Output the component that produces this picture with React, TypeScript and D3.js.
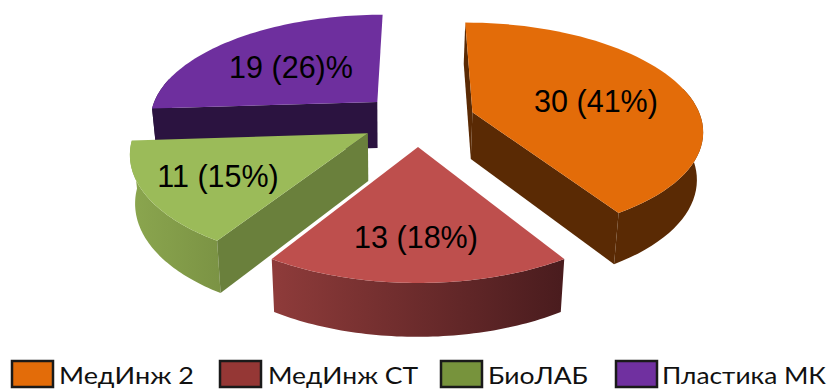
import React from "react";
import * as d3 from "d3";

// Slice data
const categories = ["МедИнж 2", "МедИнж СТ", "БиоЛАБ", "Пластика МК"];
const values = [30, 13, 11, 19];
const sliceLabels = ["30 (41%)", "13 (18%)", "11 (15%)", "19 (26)%"];

// Palette
const topColors = ["#e36c09", "#be4f4d", "#9bbb59", "#6e2f9e"];
const wallColors = ["#5a2a04", "#4c1d1f", "#6a803c", "#2b1340"];
const rimFrom = ["#5a2a04", "#8e3b3a", "#8aa54e", "#2b1340"];
const rimTo = ["#5a2a04", "#4a1c1e", "#7b9344", "#2b1340"];
const legendColors = ["#e36c09", "#953735", "#77933c", "#7030a0"];

// Perspective model of the pie plane
const W = 830;
const H = 389;
const X0 = 418;
const Y0 = 119.5;
const AX = 229;
const BY = 105.6;
const PERSP = 0.154;
const EXPLODE = 0.25;

type P = [number, number];

const project = (X: number, Y: number): P => {
  const s = 1 / (1 + PERSP * Y);
  return [X0 + AX * X * s, Y0 - BY * Y * s];
};

// Lower rim of the extrusion, for a world point
const lower = (X: number, Y: number): P => {
  const [x, y] = project(X, Y);
  return [x - (x - 390) * 0.02, y + 47 - 5.5 * Y];
};

const line = d3.line<P>();

const pie = d3
  .pie<number>()
  .sort(null)
  .startAngle(0)
  .endAngle(Math.PI * 2);
const arcs = pie(values);

// Back-to-front painting order
const paintOrder = [3, 0, 2, 1];

// Label centres and baselines
const labelLayout: P[] = [
  [596, 112],
  [416, 248],
  [218, 187],
  [291, 78],
];

// Legend layout
const legendSwatchX = [12, 220, 441, 616];
const legendTextX = [59, 268, 488, 662];
const legendTextW = [135, 150, 100, 164];

function Slice({ i }: { i: number }) {
  const a = arcs[i];
  const mid = (a.startAngle + a.endAngle) / 2;
  const ox = Math.sin(mid) * EXPLODE;
  const oy = Math.cos(mid) * EXPLODE;
  const world = (t: number): P => [ox + Math.sin(t), oy + Math.cos(t)];
  const angles = d3.range(0, 61).map((k) => a.startAngle + ((a.endAngle - a.startAngle) * k) / 60);
  const topArc = angles.map((t) => project(...world(t)));
  // Only the part of the outer wall that faces the viewer is painted
  const rimAngles = angles.filter((t) => Math.cos(t) < 0.25);
  const rimTop = rimAngles.map((t) => project(...world(t)));
  const rimLow = rimAngles.map((t) => lower(...world(t)));
  const apexTop = project(ox, oy);
  const apexLow = lower(ox, oy);
  const wall = (t: number) => {
    const w = world(t);
    return line([apexTop, project(...w), lower(...w), apexLow]) + "Z";
  };
  const rim = line([...rimTop, ...rimLow.slice().reverse()]) + "Z";
  const top = line([apexTop, ...topArc]) + "Z";
  const xs = rimLow.map((p) => p[0]);
  // The first slice shows both cut faces; the left-hand slices show only their leading face
  const showStart = a.startAngle > Math.PI;
  const showBoth = a.startAngle === 0;
  return (
    <g>
      <defs>
        <linearGradient
          id={`rim-${i}`}
          gradientUnits="userSpaceOnUse"
          x1={d3.min(xs)}
          x2={d3.max(xs)}
          y1={0}
          y2={0}
        >
          <stop offset="0" stopColor={rimFrom[i]} />
          <stop offset="1" stopColor={rimTo[i]} />
        </linearGradient>
      </defs>
      <path d={rim} fill={`url(#rim-${i})`} />
      {showBoth && <path d={wall(a.endAngle)} fill={wallColors[i]} />}
      {(showStart || showBoth) && <path d={wall(a.startAngle)} fill={wallColors[i]} />}
      <path d={top} fill={topColors[i]} />
    </g>
  );
}

export default function App() {
  return (
    <svg
      width={W}
      height={H}
      viewBox={`0 0 ${W} ${H}`}
      style={{ position: "absolute", left: 0, top: 0, display: "block", background: "#fff" }}
    >
      {paintOrder.map((i) => (
        <Slice key={i} i={i} />
      ))}
      {sliceLabels.map((t, i) => (
        <text
          key={t}
          x={labelLayout[i][0]}
          y={labelLayout[i][1]}
          textAnchor="middle"
          fontFamily="'Liberation Sans', Arial, sans-serif"
          fontSize={30.5}
          fill="#000"
        >
          {t}
        </text>
      ))}
      {categories.map((c, i) => (
        <g key={c}>
          <rect
            x={legendSwatchX[i]}
            y={361}
            width={41}
            height={26}
            fill={legendColors[i]}
            stroke="#1a1a1a"
            strokeWidth={2.5}
          />
          <text
            x={legendTextX[i]}
            y={383.5}
            fontFamily="Lato, 'Open Sans', sans-serif"
            fontSize={24}
            textLength={legendTextW[i]}
            lengthAdjust="spacingAndGlyphs"
            fill="#111"
          >
            {c}
          </text>
        </g>
      ))}
    </svg>
  );
}
